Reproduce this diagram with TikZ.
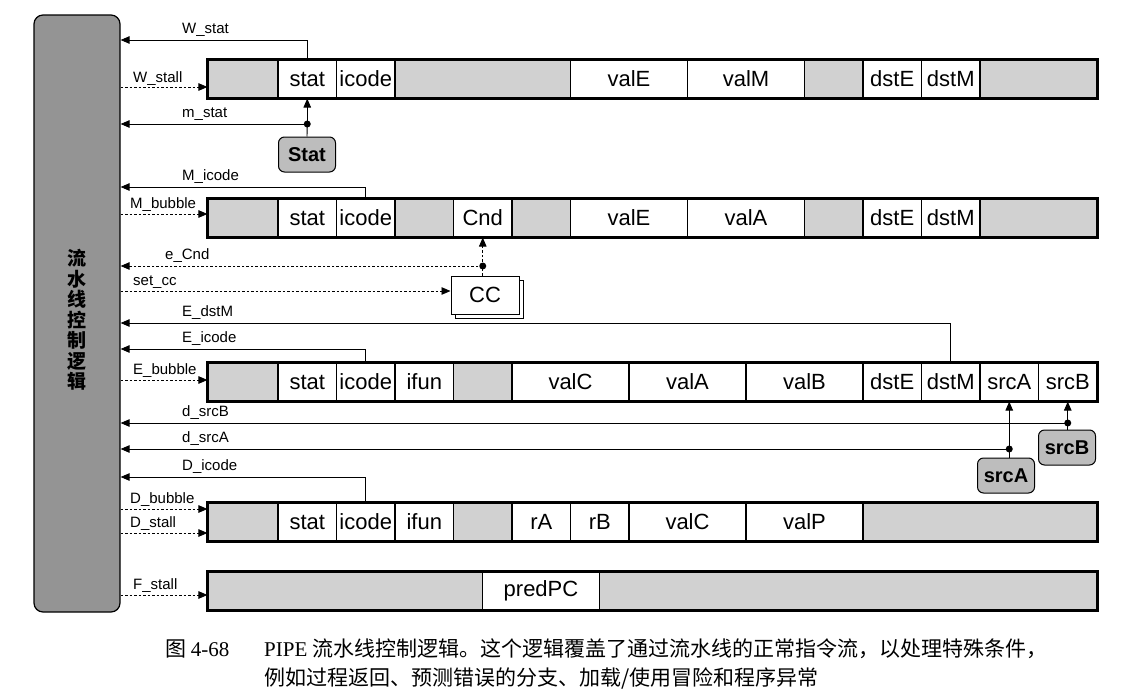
\documentclass[tikz,border=0pt]{standalone}
\usepackage{fontspec}
\setmainfont{Liberation Serif}
\setsansfont{Liberation Sans}
\newfontfamily\cjk{Noto Sans CJK SC}
\usetikzlibrary{arrows.meta,shadows,calc}
\definecolor{shd}{gray}{0.82}
\definecolor{ctl}{gray}{0.58}
\definecolor{sig}{gray}{0.74}
\newcommand\pipecells[3]{\foreach \a/\b/\t/\c [count=\i] in {#3}{\node[cell, fill=\c, minimum width={(\b-\a)*1pt}] (#1\i) at ({(\a+\b)/2},#2) {\t};}}
\begin{document}
\begin{tikzpicture}[x=1pt,y=-1pt,
  cell/.style={draw, line width=1.1pt, inner sep=0pt, minimum height=38pt, font=\sffamily\fontsize{22}{22}\selectfont},
  lbl/.style={anchor=base west, inner sep=0pt, font=\sffamily\fontsize{15}{15}\selectfont},
  outarr/.style={line width=0.9pt, -{Triangle[length=9pt,width=7.5pt]}},
  inarr/.style={line width=0.9pt, dash pattern=on 2.5pt off 2pt, -{Triangle[length=9pt,width=7.5pt]}},
  dashln/.style={line width=0.9pt, dash pattern=on 2.5pt off 2pt},
  plainln/.style={line width=0.9pt},
  jdot/.style={circle, fill=black, inner sep=0pt, minimum size=7pt},
  srcbox/.style={draw, line width=1pt, rounded corners=6pt, fill=sig, inner sep=0pt, minimum width=57pt, minimum height=35pt, font=\sffamily\bfseries\fontsize{20}{20}\selectfont},
  rowframe/.style={draw, line width=2.2pt},
  capfont/.style={anchor=base west, inner sep=0pt, font=\cjk\fontsize{21}{21}\selectfont}
]
\useasboundingbox (0,0) rectangle (1127,696);

% control logic block
\node[draw, line width=1.2pt, rounded corners=9pt, fill=ctl, minimum width=86pt, minimum height=597pt, inner sep=0pt] (ctrl) at (77,313.5) {};
\node[font=\cjk\bfseries\fontsize{19}{20.5}\selectfont, align=center, inner sep=0pt] (ctrltxt) at (77,320) {流\\水\\线\\控\\制\\逻\\辑};

% pipeline registers
\pipecells{W}{79}{208/278//shd, 278/336.5/stat/white, 336.5/395/icode/white, 395/570.5//shd, 570.5/687.5/valE/white, 687.5/804.5/valM/white, 804.5/863//shd, 863/921.5/dstE/white, 921.5/980/dstM/white, 980/1097//shd}
\draw[rowframe] (W1.north west) rectangle (W10.south east);

\pipecells{M}{218}{208/278//shd, 278/336.5/stat/white, 336.5/395/icode/white, 395/453.5//shd, 453.5/512/Cnd/white, 512/570.5//shd, 570.5/687.5/valE/white, 687.5/804.5/valA/white, 804.5/863//shd, 863/921.5/dstE/white, 921.5/980/dstM/white, 980/1097//shd}
\draw[rowframe] (M1.north west) rectangle (M12.south east);

\pipecells{E}{382}{208/278//shd, 278/336.5/stat/white, 336.5/395/icode/white, 395/453.5/ifun/white, 453.5/512//shd, 512/629/valC/white, 629/746/valA/white, 746/863/valB/white, 863/921.5/dstE/white, 921.5/980/dstM/white, 980/1038.5/srcA/white, 1038.5/1097/srcB/white}
\draw[rowframe] (E1.north west) rectangle (E12.south east);

\pipecells{D}{522}{208/278//shd, 278/336.5/stat/white, 336.5/395/icode/white, 395/453.5/ifun/white, 453.5/512//shd, 512/570.5/rA/white, 570.5/629/rB/white, 629/746/valC/white, 746/863/valP/white, 863/1097//shd}
\draw[rowframe] (D1.north west) rectangle (D10.south east);

\pipecells{F}{591}{208/482.5//shd, 482.5/599.5/predPC/white, 599.5/1097//shd}
\draw[rowframe] (F1.north west) rectangle (F3.south east);

% signal sources
\node[srcbox] (Stat) at (307,154.5) {Stat};
\node[draw, line width=1pt, fill=white, inner sep=0pt, minimum width=68pt, minimum height=38pt, font=\sffamily\fontsize{22}{22}\selectfont, copy shadow={shadow xshift=4pt, shadow yshift=-4pt, draw, fill=white}] (CC) at (485,295) {CC};
\node[srcbox] (nsrcB) at (1067,447.5) {srcB};
\node[srcbox] (nsrcA) at (1006,475.5) {srcA};

% signal levels
\coordinate (yWstat) at (0,40);
\coordinate (yWstall) at (0,87);
\coordinate (ymstat) at (0,124);
\coordinate (yMicode) at (0,187);
\coordinate (yMbubble) at (0,214);
\coordinate (yeCnd) at (0,266);
\coordinate (ysetcc) at (0,291);
\coordinate (yEdstM) at (0,323);
\coordinate (yEicode) at (0,349);
\coordinate (yEbubble) at (0,380);
\coordinate (ydsrcB) at (0,423);
\coordinate (ydsrcA) at (0,449);
\coordinate (yDicode) at (0,477);
\coordinate (yDbubble) at (0,509);
\coordinate (yDstall) at (0,533);
\coordinate (yFstall) at (0,595);

% outputs to control logic
\draw[outarr] (W2.north) |- (ctrl.east |- yWstat);
\node[jdot] (jStat) at (W2.south |- ymstat) {};
\draw[plainln] (Stat.north) -- (jStat.center);
\draw[outarr] (jStat.center) -- (W2.south);
\draw[outarr] (jStat.center) -- (ctrl.east |- jStat);
\draw[outarr] (M3.north) |- (ctrl.east |- yMicode);
\node[jdot] (jCnd) at (M5.south |- yeCnd) {};
\draw[dashln] (CC.north -| M5.south) -- (jCnd.center);
\draw[inarr] (jCnd.center) -- (M5.south);
\draw[inarr] (jCnd.center) -- (ctrl.east |- jCnd);
\draw[outarr] (E10.north) |- (ctrl.east |- yEdstM);
\draw[outarr] (E3.north) |- (ctrl.east |- yEicode);
\node[jdot] (jB) at (E12.south |- ydsrcB) {};
\draw[plainln] (nsrcB.north -| E12.south) -- (jB.center);
\draw[outarr] (jB.center) -- (E12.south);
\draw[outarr] (jB.center) -- (ctrl.east |- jB);
\node[jdot] (jA) at (E11.south |- ydsrcA) {};
\draw[plainln] (nsrcA.north -| E11.south) -- (jA.center);
\draw[outarr] (jA.center) -- (E11.south);
\draw[outarr] (jA.center) -- (ctrl.east |- jA);
\draw[outarr] (D3.north) |- (ctrl.east |- yDicode);

% inputs from control logic
\draw[inarr] (ctrl.east |- yWstall) -- (W1.west |- yWstall);
\draw[inarr] (ctrl.east |- yMbubble) -- (M1.west |- yMbubble);
\draw[inarr] (ctrl.east |- ysetcc) -- (CC.west |- ysetcc);
\draw[inarr] (ctrl.east |- yEbubble) -- (E1.west |- yEbubble);
\draw[inarr] (ctrl.east |- yDbubble) -- (D1.west |- yDbubble);
\draw[inarr] (ctrl.east |- yDstall) -- (D1.west |- yDstall);
\draw[inarr] (ctrl.east |- yFstall) -- (F1.west |- yFstall);

% labels
\node[lbl] (lWstat) at (182,33) {W\_stat};
\node[lbl] (lWstall) at (133,82) {W\_stall};
\node[lbl] (lmstat) at (182,117) {m\_stat};
\node[lbl] (lMicode) at (182,180) {M\_icode};
\node[lbl] (lMbubble) at (130,208) {M\_bubble};
\node[lbl] (leCnd) at (165,259) {e\_Cnd};
\node[lbl] (lsetcc) at (133,285) {set\_cc};
\node[lbl] (lEdstM) at (182,316) {E\_dstM};
\node[lbl] (lEicode) at (182,342) {E\_icode};
\node[lbl] (lEbubble) at (133,374) {E\_bubble};
\node[lbl] (ldsrcB) at (182,416) {d\_srcB};
\node[lbl] (ldsrcA) at (182,442) {d\_srcA};
\node[lbl] (lDicode) at (182,470) {D\_icode};
\node[lbl] (lDbubble) at (130,503) {D\_bubble};
\node[lbl] (lDstall) at (130,527) {D\_stall};
\node[lbl] (lFstall) at (133,589) {F\_stall};

% caption
\node[capfont] (capnum) at (165,656) {图 {\rmfamily 4-68}};
\node[capfont] (cap1) at (264,656) {{\rmfamily PIPE} 流水线控制逻辑。这个逻辑覆盖了通过流水线的正常指令流，以处理特殊条件，};
\node[capfont] (cap2) at (264,685) {例如过程返回、预测错误的分支、加载/使用冒险和程序异常};
\end{tikzpicture}
\end{document}
